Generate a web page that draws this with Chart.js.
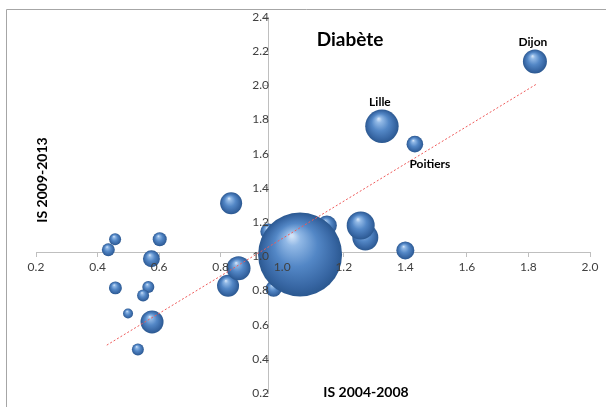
<!DOCTYPE html>
<html>
<head>
<meta charset="utf-8">
<script src="https://cdn.jsdelivr.net/npm/chart.js@4.4.1/dist/chart.umd.min.js"></script>
<style>
    html, body { margin: 0; padding: 0; background: #fff; }
</style>
</head>
<body>
<canvas id="diabeteChart" width="606" height="407"></canvas>
<script>
    // valeurs
    const villes = ['', '', '', '', '', '', '', '', '', '', '', '', '', '', '', '', '', '', '', 'Lille', 'Poitiers', 'Dijon', ''];
    const is2004 = [0.457, 0.435, 0.602, 0.575, 0.458, 0.565, 0.548, 0.499, 0.577, 0.531, 0.834, 0.824, 0.858, 0.955, 1.145, 0.972, 1.27, 1.255, 1.40, 1.324, 1.431, 1.821, 1.058];
    const is2009 = [1.10, 1.038, 1.10, 0.985, 0.815, 0.82, 0.771, 0.665, 0.616, 0.455, 1.31, 0.828, 0.93, 1.145, 1.18, 0.81, 1.11, 1.18, 1.034, 1.761, 1.656, 2.14, 1.01];
    const taille = [36, 42, 49, 72, 42, 36, 36, 25, 132, 36, 121, 121, 144, 64, 100, 64, 169, 196, 81, 279, 69, 144, 1764];
    const tendanceX = [0.43, 1.825];
    const tendanceY = [0.48, 2.006];
    const ticksX = [0.2, 0.4, 0.6, 0.8, 1.0, 1.2, 1.4, 1.6, 1.8, 2.0];
    const ticksY = [0.2, 0.4, 0.6, 0.8, 1.0, 1.2, 1.4, 1.6, 1.8, 2.0, 2.2, 2.4];

    function sphere(context) {
        const chart = context.chart
        const raw = context.raw
        if (!raw || !chart.scales.x || !chart.scales.y) return '#4f81bd'
        const cx = chart.scales.x.getPixelForValue(raw.x)
        const cy = chart.scales.y.getPixelForValue(raw.y)
        const r = raw.r
        if (!isFinite(cx) || !isFinite(cy) || !isFinite(r)) return '#4f81bd'
        const g = chart.ctx.createRadialGradient(cx - r * 0.2, cy - r * 0.45, r * 0.03, cx, cy, r)
        g.addColorStop(0, '#d0e2f7')
        g.addColorStop(0.15, '#92b9e6')
        g.addColorStop(0.5, '#5387c6')
        g.addColorStop(0.85, '#3766a3')
        g.addColorStop(1, '#2b5890')
        return g
    }

    const texteGraphique = {
        id: 'texteGraphique',
        beforeDraw(chart) {
            const ctx = chart.ctx
            ctx.save()
            ctx.strokeStyle = '#a6a6a6'
            ctx.lineWidth = 1
            ctx.beginPath()
            ctx.moveTo(6.5, 420)
            ctx.lineTo(6.5, 9.5)
            ctx.lineTo(620, 9.5)
            ctx.stroke()
            ctx.restore()
        },
        afterDraw(chart) {
            const ctx = chart.ctx
            ctx.save()
            ctx.fillStyle = '#000'
            ctx.textAlign = 'center'
            ctx.textBaseline = 'middle'
            ctx.font = 'bold 19px Lato'
            ctx.fillText('Diabète', 350, 40)

            ctx.font = 'bold 14px Lato'
            ctx.fillText('IS 2004-2008', 366, 392)
            ctx.save()
            ctx.translate(42, 180)
            ctx.rotate(-Math.PI / 2)
            ctx.fillText('IS 2009-2013', 0, 0)
            ctx.restore()

            // noms des villes à côté des bulles
            ctx.font = 'bold 12px Lato'
            const meta = chart.getDatasetMeta(1)
            villes.forEach((nom, i) => {
                if (!nom) return
                const pt = meta.data[i]
                const r = pt.options.radius
                if (nom == 'Poitiers') {
                    ctx.fillText(nom, pt.x + 15, pt.y + r + 12)
                } else {
                    ctx.fillText(nom, pt.x - 2, pt.y - r - 7)
                }
            })
            ctx.restore()
        }
    }

    const axeFont = { family: 'Lato', size: 12 }
    const diabeteCtx = document.getElementById('diabeteChart').getContext('2d');
    new Chart(diabeteCtx, {
        type: 'bubble',
        data: {
            datasets: [{
                type: 'line',
                label: 'Tendance',
                data: tendanceX.map((x, i) => ({ x: x, y: tendanceY[i] })),
                borderColor: '#ee5a5a',
                borderWidth: 1,
                borderDash: [2, 2],
                pointRadius: 0,
                fill: false,
                order: 0
            }, {
                label: 'Diabète',
                data: is2004.map((x, i) => ({ x: x, y: is2009[i], r: Math.sqrt(taille[i]) })),
                backgroundColor: sphere,
                borderWidth: 0,
                order: 1
            }]
        },
        options: {
            responsive: false,
            animation: false,
            events: [],
            layout: { autoPadding: false, padding: { left: 36, right: 16, top: 17, bottom: 14 } },
            scales: {
                x: {
                    type: 'linear',
                    min: 0.2,
                    max: 2.0,
                    position: { y: 1.0245 },
                    afterBuildTicks: (scale) => { scale.ticks = ticksX.map(v => ({ value: v })) },
                    grid: { drawOnChartArea: false, tickLength: 4, color: '#bfbfbf' },
                    border: { color: '#bfbfbf' },
                    ticks: { z: 1, padding: 4, color: '#404040', font: axeFont, callback: v => v.toFixed(1) }
                },
                y: {
                    type: 'linear',
                    min: 0.2,
                    max: 2.4,
                    position: { x: 0.957 },
                    afterBuildTicks: (scale) => { scale.ticks = ticksY.map(v => ({ value: v })) },
                    grid: { drawOnChartArea: false, tickLength: 4, color: '#bfbfbf' },
                    border: { color: '#bfbfbf' },
                    ticks: { z: 1, padding: 4, color: '#404040', font: axeFont, callback: v => v.toFixed(1) }
                }
            },
            plugins: {
                legend: { display: false },
                tooltip: { enabled: false }
            }
        },
        plugins: [texteGraphique]
    });
</script>
</body>
</html>
